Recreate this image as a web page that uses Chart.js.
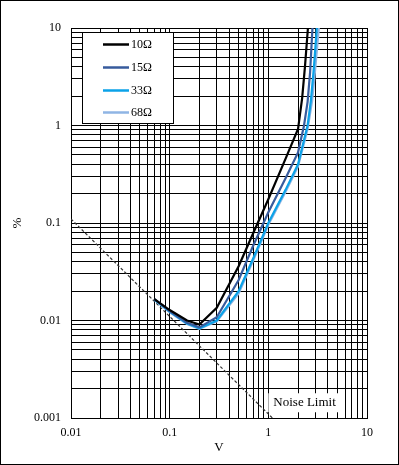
<!DOCTYPE html>
<html>
<head>
<meta charset="utf-8">
<script src="https://cdn.jsdelivr.net/npm/chart.js@4.4.0/dist/chart.umd.min.js"></script>
<style>
  body { margin: 0; background: #fff; }
  canvas { display: block; }
</style>
</head>
<body>
<canvas id="chart" width="399" height="465"></canvas>
<script>
// Axis decades (labelled ticks)
const xMajor = [0.01, 0.1, 1, 10];
const yMajor = [0.001, 0.01, 0.1, 1, 10];

// Series
const seriesNames = ['10Ω', '15Ω', '33Ω', '68Ω'];
const seriesColors = ['#000000', '#375b9d', '#0ba2e8', '#8fb5e4'];

const v10 = [0.07, 0.1, 0.15, 0.2, 0.3, 0.5, 0.7, 1.0, 1.5, 2.0, 2.2, 2.35, 2.52];
const p10 = [0.0166, 0.0128, 0.0100, 0.0091, 0.0135, 0.036, 0.078, 0.175, 0.46, 0.92, 1.9, 4.0, 10];

const v15 = [0.07, 0.1, 0.15, 0.2, 0.3, 0.5, 0.7, 1.0, 1.5, 2.0, 2.3, 2.5, 2.65, 2.8];
const p15 = [0.0166, 0.0125, 0.0095, 0.0085, 0.0108, 0.026, 0.058, 0.129, 0.29, 0.53, 1.0, 1.75, 3.5, 10];

const v33 = [0.07, 0.1, 0.15, 0.2, 0.3, 0.5, 0.7, 1.0, 1.5, 2.0, 2.5, 2.7, 2.9, 3.1];
const p33 = [0.0164, 0.0123, 0.0093, 0.0083, 0.0100, 0.020, 0.043, 0.10, 0.22, 0.40, 1.0, 1.8, 4.0, 10];

const v68 = [0.07, 0.1, 0.15, 0.2, 0.3, 0.5, 0.7, 1.0, 1.5, 2.0, 2.5, 2.78, 3.0, 3.25];
const p68 = [0.0164, 0.0122, 0.0092, 0.0082, 0.0098, 0.019, 0.041, 0.096, 0.21, 0.38, 0.92, 1.8, 4.0, 10];

// Noise limit line
const noiseV = [0.01, 1.1];
const noiseP = [0.11, 0.001];
const noiseLabel = 'Noise Limit';
const noiseLabelAt = [1.0, 0.00145];

function toPoints(xs, ys) {
    return xs.map((x, i) => ({ x: x, y: ys[i] }));
}

// 1..9 steps inside each decade, for the grid
function decadeTicks(majors) {
    const out = [];
    majors.forEach((m, i) => {
        if (i === majors.length - 1) { out.push(m); return; }
        for (let k = 1; k < 10; k++) out.push(+(m * k).toPrecision(3));
    });
    return out;
}

const serif = "'Liberation Serif', 'Times New Roman', serif";

const datasets = [[v10, p10], [v15, p15], [v33, p33], [v68, p68]].map((s, i) => ({
    label: seriesNames[i],
    data: toPoints(s[0], s[1]),
    borderColor: seriesColors[i],
    borderWidth: 2.2,
    pointRadius: 0,
    tension: 0,
    fill: false
}));
datasets.push({
    label: noiseLabel,
    data: toPoints(noiseV, noiseP),
    borderColor: '#333',
    borderWidth: 1.2,
    borderDash: [3, 2],
    pointRadius: 0,
    fill: false
});

// Legend box drawn inside the plot, top-left
const legendBox = {
    id: 'legendBox',
    afterDraw(chart) {
        const ctx = chart.ctx;
        const a = chart.chartArea;
        const x = a.left + 11, y = a.top + 4, w = 91, h = 91;
        ctx.save();
        ctx.fillStyle = '#fff';
        ctx.fillRect(x, y, w, h);
        ctx.strokeStyle = '#000';
        ctx.lineWidth = 1;
        ctx.strokeRect(x + 0.5, y + 0.5, w, h);
        const rows = [12, 35, 58, 80];
        ctx.font = '12px ' + serif;
        ctx.textBaseline = 'middle';
        seriesNames.forEach((name, i) => {
            const ry = y + rows[i] + 0.5;
            ctx.strokeStyle = seriesColors[i];
            ctx.lineWidth = 2.5;
            ctx.beginPath();
            ctx.moveTo(x + 21, ry);
            ctx.lineTo(x + 47, ry);
            ctx.stroke();
            ctx.fillStyle = '#000';
            ctx.fillText(name, x + 49, ry);
        });
        ctx.restore();
    }
};

// "Noise Limit" label with white backing
const noiseTag = {
    id: 'noiseTag',
    afterDatasetsDraw(chart) {
        const ctx = chart.ctx;
        const px = chart.scales.x.getPixelForValue(noiseLabelAt[0]);
        const py = chart.scales.y.getPixelForValue(noiseLabelAt[1]);
        ctx.save();
        ctx.font = '13px ' + serif;
        const tw = ctx.measureText(noiseLabel).width;
        ctx.fillStyle = '#fff';
        ctx.fillRect(px, py - 9, tw + 9, 19);
        ctx.fillStyle = '#000';
        ctx.textBaseline = 'middle';
        ctx.fillText(noiseLabel, px + 5, py);
        ctx.restore();
    }
};

// Outer frame
const frame = {
    id: 'frame',
    afterDraw(chart) {
        const ctx = chart.ctx;
        ctx.save();
        ctx.strokeStyle = '#000';
        ctx.lineWidth = 1;
        ctx.strokeRect(0.5, 0.5, chart.width - 1, chart.height - 1);
        ctx.restore();
    }
};

new Chart(document.getElementById('chart'), {
    type: 'line',
    data: { datasets: datasets },
    plugins: [noiseTag, legendBox, frame],
    options: {
        responsive: false,
        animation: false,
        layout: { padding: { top: 28, right: 32, left: 0, bottom: 0 } },
        plugins: {
            legend: { display: false },
            tooltip: { enabled: false }
        },
        scales: {
            x: {
                type: 'logarithmic',
                min: 0.01,
                max: 10,
                afterBuildTicks: s => { s.ticks = decadeTicks(xMajor).map(v => ({ value: v })); },
                afterFit: s => { s.height = 47; },
                grid: { color: '#000', lineWidth: 1, drawTicks: false },
                border: { display: true, color: '#000', width: 1 },
                ticks: {
                    autoSkip: false,
                    maxRotation: 0,
                    padding: 8,
                    color: '#000',
                    font: { family: serif, size: 12 },
                    callback: v => xMajor.includes(v) ? String(v) : ''
                },
                title: {
                    display: true,
                    text: 'V',
                    color: '#000',
                    font: { family: serif, size: 13 },
                    padding: { top: 0, bottom: 10 }
                }
            },
            y: {
                type: 'logarithmic',
                min: 0.001,
                max: 10,
                afterBuildTicks: s => { s.ticks = decadeTicks(yMajor).map(v => ({ value: v })); },
                afterFit: s => { s.width = 71; },
                grid: { color: '#000', lineWidth: 1, drawTicks: false },
                border: { display: true, color: '#000', width: 1 },
                ticks: {
                    autoSkip: false,
                    padding: 10,
                    color: '#000',
                    font: { family: serif, size: 12 },
                    callback: v => yMajor.includes(v) ? String(v) : ''
                },
                title: {
                    display: true,
                    text: '%',
                    color: '#000',
                    font: { family: serif, size: 13 },
                    padding: { top: 10, bottom: 0 }
                }
            }
        }
    }
});
</script>
</body>
</html>
